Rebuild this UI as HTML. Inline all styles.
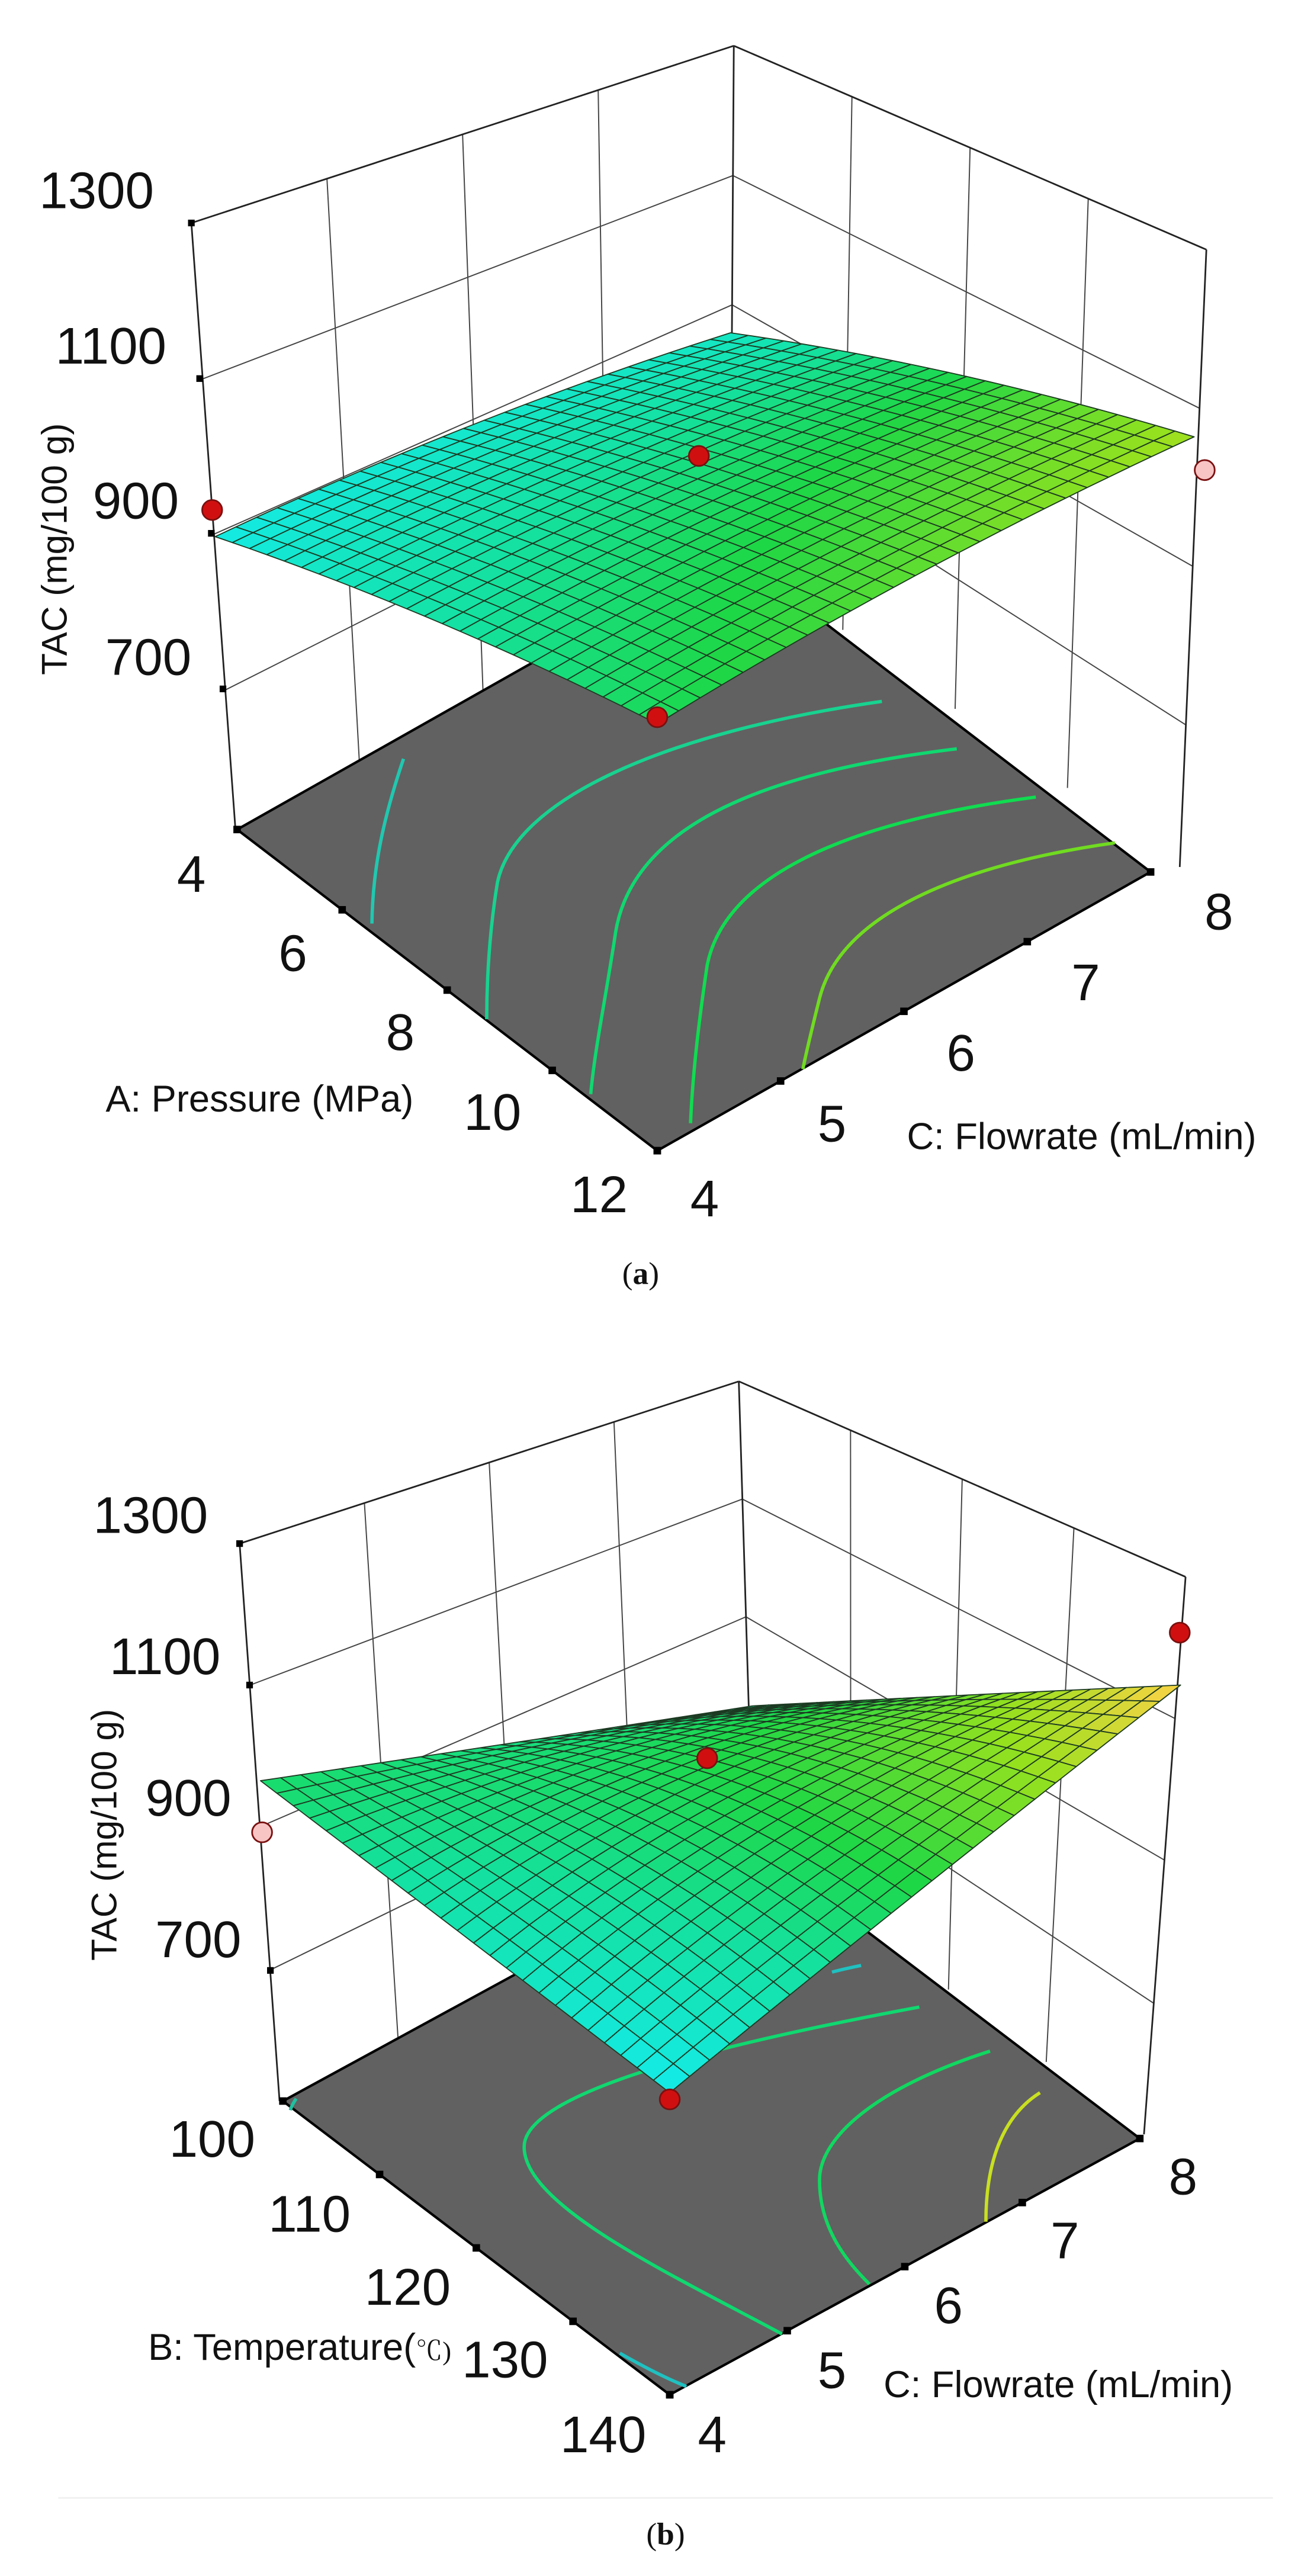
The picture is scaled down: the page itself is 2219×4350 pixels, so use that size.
<!DOCTYPE html>
<html><head><meta charset="utf-8"><style>
html,body{margin:0;padding:0;background:#fff}
svg{display:block}
text{font-family:"Liberation Sans",sans-serif;fill:#111}
</style></head><body>
<svg id="s" xmlns="http://www.w3.org/2000/svg" width="2219" height="4350" viewBox="0 0 2219 4350">
<rect width="2219" height="4350" fill="#fff"/>
<g id="ga" transform="scale(1.405)"></g>
<g id="gb" transform="translate(0,2150) scale(1.405)"></g>
</svg>
<script>
function lerp(a,b,t){return a+(b-a)*t}
function P(a,b,t){return [lerp(a[0],b[0],t),lerp(a[1],b[1],t)]}
function bil(c,u,v){return (1-u)*(1-v)*c.L+u*(1-v)*c.F+u*v*c.R+(1-u)*v*c.B}
function hex(c){return '#'+c.map(x=>Math.max(0,Math.min(255,Math.round(x))).toString(16).padStart(2,'0')).join('')}
var stops=[[0,[20,235,235]],[0.3,[20,225,160]],[0.5,[30,215,70]],[0.75,[150,225,30]],[1,[255,210,70]]];
function cmap(t){t=Math.max(0,Math.min(1,t));for(var i=1;i<stops.length;i++){if(t<=stops[i][0]){var a=stops[i-1],b=stops[i],k=(t-a[0])/(b[0]-a[0]);return hex([0,1,2].map(j=>lerp(a[1][j],b[1][j],k)))}}return hex(stops[stops.length-1][1])}
function f(p){return p[0].toFixed(1)+','+p[1].toFixed(1)}
function panel(id,c){
 var o='';
 var L=c.L,F=c.F,R=c.R,B=c.B;
 var fl=function(u,v){return [bil({L:L[0],F:F[0],R:R[0],B:B[0]},u,v),bil({L:L[1],F:F[1],R:R[1],B:B[1]},u,v)]};
 var Lt=c.Lt,Bt=c.Bt,Rt=c.Rt,Rb=c.Rb,Lb=c.Lb;
 var ln=function(a,b,w,col){o+='<line x1="'+a[0].toFixed(1)+'" y1="'+a[1].toFixed(1)+'" x2="'+b[0].toFixed(1)+'" y2="'+b[1].toFixed(1)+'" stroke="'+(col||'#222')+'" stroke-width="'+(w||1.6)+'"/>'};
 var zs=c.zs;
 [0.25,0.5,0.75].forEach(function(t){ln(P(Lt,Bt,t),P(Lb,B,t),1.4,'#444');ln(P(Bt,Rt,t),P(B,Rb,t),1.4,'#444');});
 zs.forEach(function(t){ln(P(Lt,Lb,t),P(Bt,B,t),1.4,'#444');ln(P(Bt,B,t),P(Rt,Rb,t),1.4,'#444');});
 ln(Lt,Bt,2);ln(Bt,Rt,2);ln(Bt,B,2);ln(Lt,Lb,2);ln(Rt,Rb,2);
 o+='<polygon points="'+[L,F,R,B].map(f).join(' ')+'" fill="#616161" stroke="#000" stroke-width="3" stroke-linejoin="round"/>';
 c.cont.forEach(function(k){o+='<path d="'+k[0]+'" fill="none" stroke="'+k[1]+'" stroke-width="4"/>'});
 var N=25,pts=[],vals=[];
 for(var i=0;i<=N;i++){pts[i]=[];vals[i]=[];for(var j=0;j<=N;j++){var u=i/N,v=j/N;var p=fl(u,v);
  var bump=c.edgeCurve?(2*u*(1-u)+2*v*(1-v)):16*u*(1-u)*v*(1-v);
  var r=bil(c.rise,u,v)+c.bump*bump;var dx=bil(c.dx,u,v);
  pts[i][j]=[p[0]+dx*r,p[1]-r];vals[i][j]=bil(c.col,u,v)+c.cbump*bump;}}
 var cells=[];
 for(var i=0;i<N;i++)for(var j=0;j<N;j++)cells.push([i,j,(i+0.5)+(N-j-0.5)]);
 cells.sort(function(a,b){return a[2]-b[2]});
 cells.forEach(function(q){var i=q[0],j=q[1];var v=(vals[i][j]+vals[i+1][j]+vals[i][j+1]+vals[i+1][j+1])/4;
  o+='<polygon points="'+[pts[i][j],pts[i+1][j],pts[i+1][j+1],pts[i][j+1]].map(f).join(' ')+'" fill="'+cmap(v)+'" stroke="#1d3a22" stroke-width="1.3" stroke-linejoin="round"/>';});
 c.dots.forEach(function(d){o+='<rect x="'+(d[0]-4)+'" y="'+(d[1]-4)+'" width="8" height="8" fill="#000"/>'});
 [0,0.25,0.5,0.75,1].forEach(function(t){var p=P(L,F,t);o+='<rect x="'+(p[0]-4.5)+'" y="'+(p[1]-4.5)+'" width="9" height="9" fill="#000"/>';var p2=P(F,R,t);o+='<rect x="'+(p2[0]-4.5)+'" y="'+(p2[1]-4.5)+'" width="9" height="9" fill="#000"/>';});
 c.marks.forEach(function(m){o+='<circle cx="'+m[0]+'" cy="'+m[1]+'" r="12" fill="'+(m[2]?'#f8c4c4':'#d01010')+'" stroke="#7a1010" stroke-width="2"/>'});
 c.texts.forEach(function(t){o+='<text x="'+t[0]+'" y="'+t[1]+'" font-size="'+t[3]+'" text-anchor="'+(t[4]||'middle')+'"'+(t[5]?' transform="rotate(-90 '+t[0]+' '+t[1]+')"':'')+'>'+t[2]+'</text>'});
 o+=c.extra||'';
 document.getElementById(id).innerHTML=o;
}
panel('ga',{
 L:[285,997],F:[790,1383],R:[1383,1048],B:[878,662],
 Lt:[230,268],Bt:[882,55],Rt:[1450,300],Lb:[283,997],Rb:[1418,1042],
 zs:[0.257,0.513,0.77],
 rise:{L:352,B:262,R:523,F:513},dx:{L:-0.075,B:0,R:0.1,F:0},bump:25,edgeCurve:true,
 col:{L:0.03,B:0.15,F:0.45,R:0.78},cbump:0.05,
 cont:[["M485,912 C462,980 448,1040 447,1110","#20c8b0"],["M1060,843 C800,880 620,960 598,1060 C588,1120 585,1180 585,1225","#18d290"],["M1150,900 C900,930 760,1000 740,1120 C728,1200 715,1260 710,1315","#10d870"],["M1245,958 C1000,990 870,1060 850,1160 C838,1240 832,1300 830,1350","#10dc50"],["M1340,1013 C1150,1040 1010,1100 985,1200 C975,1240 968,1270 965,1285","#70dc20"]],
 dots:[[230,268],[240,455],[254,641],[268,828]],
 marks:[[255,613],[840,548],[790,862],[1448,565,1]],
 texts:[["185",250,"1300",62,"end"],["200",437,"1100",62,"end"],["215",623,"900",62,"end"],["230",811,"700",62,"end"],
  ["80",660,"TAC (mg/100 g)",43,"middle",1],
  ["230",1072,"4",62],["352",1167,"6",62],["481",1262,"8",62],["592",1358,"10",62],["720",1457,"12",62],
  ["847",1462,"4",62],["1000",1372,"5",62],["1155",1287,"6",62],["1305",1202,"7",62],["1465",1117,"8",62],
  ["312",1336,"A: Pressure (MPa)",45],["1300",1381,"C: Flowrate (mL/min)",45]],
 extra:'<text x="770" y="1543" font-size="38" text-anchor="middle" style="font-family:\'Liberation Serif\',serif">(<tspan font-weight="bold">a</tspan>)</text>'
});
panel('gb',{
 L:[340,995],F:[805,1348],R:[1370,1040],B:[905,687],
 Lt:[288,325],Bt:[888,130],Rt:[1425,365],Lb:[336,995],Rb:[1375,1035],
 zs:[0.254,0.508,0.765],
 rise:{L:385,B:167,R:545,F:363},dx:{L:-0.07,B:0,R:0.09,F:0},bump:40,edgeCurve:false,
 col:{L:0.42,B:0.3,F:0.0,R:1.0},cbump:0.05,
 cont:[["M1105,882 C900,920 630,980 630,1050 C630,1120 800,1200 940,1275","#10d870"],["M1190,935 C1050,980 985,1040 985,1090 C985,1150 1020,1190 1045,1215","#10d860"],["M1250,985 C1210,1010 1185,1060 1185,1140","#c8e020"],["M745,1298 C780,1318 805,1330 825,1338","#20c0c0"],["M1000,840 C1015,836 1025,834 1035,832","#20c0c0"],["M356,992 C352,998 350,1002 349,1006","#20c0a0"]],
 dots:[[288,325],[300,495],[312,665],[325,838]],
 marks:[[315,672,1],[850,583],[805,993],[1418,432]],
 texts:[["250",312,"1300",62,"end"],["265",482,"1100",62,"end"],["278",652,"900",62,"end"],["290",822,"700",62,"end"],
  ["140",675,"TAC (mg/100 g)",43,"middle",1],
  ["255",1062,"100",62],["372",1152,"110",62],["490",1240,"120",62],["607",1327,"130",62],["725",1417,"140",62],
  ["856",1417,"4",62],["1000",1340,"5",62],["1140",1262,"6",62],["1280",1184,"7",62],["1422",1107,"8",62]],
 extra:'<text x="178" y="1306" font-size="45" text-anchor="start">B: Temperature(<tspan font-size="32" style="font-family:\'Liberation Serif\',\'Noto Serif CJK SC\',serif">℃)</tspan></text>'+
  '<text x="1272" y="1351" font-size="45" text-anchor="middle">C: Flowrate (mL/min)</text>'+
  '<line x1="70" y1="1472" x2="1530" y2="1472" stroke="#f0f0f0" stroke-width="2"/>'+
  '<text x="800" y="1528" font-size="38" text-anchor="middle" style="font-family:\'Liberation Serif\',serif">(<tspan font-weight="bold">b</tspan>)</text>'
});
</script>
</body></html>
